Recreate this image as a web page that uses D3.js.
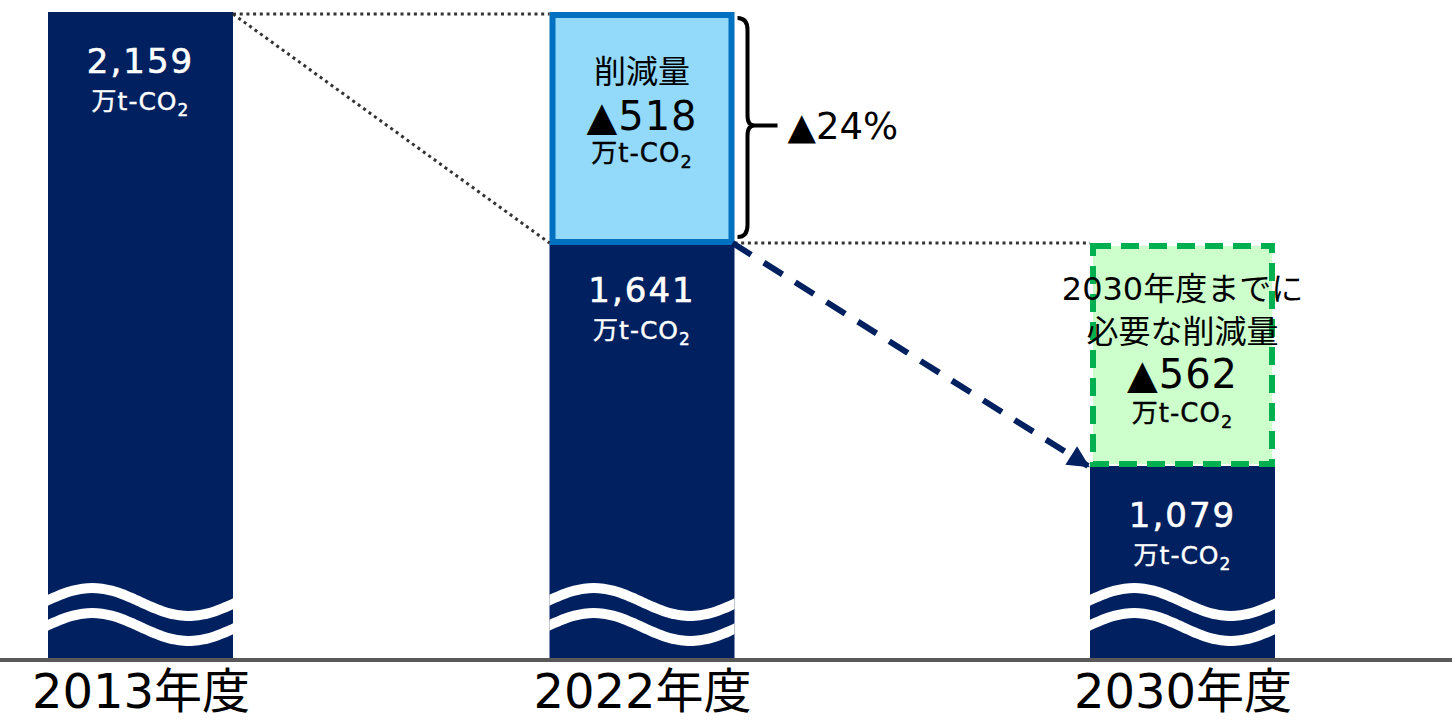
<!DOCTYPE html>
<html>
<head>
<meta charset="utf-8">
<script src="https://cdn.jsdelivr.net/npm/d3@7"></script>
<style>
  body { margin: 0; background: #fff; }
  svg { display: block; }
</style>
</head>
<body>
<div id="chart"></div>
<script>
// data
const years = ["2013年度", "2022年度", "2030年度"]
const emissions = [2159, 1641, 1079]
const reductionDone = 518      // 2013 -> 2022
const reductionNeeded = 562    // 2022 -> 2030
const reductionRate = 24       // %
const unitText = "万t-CO"
const neededLines = ["2030年度までに", "必要な削減量"]
const doneTitle = "削減量"

const W = 1452, H = 721
const baseY = 660
const barW = 185
const FONT = "'DejaVu Sans', 'Noto Sans CJK JP', sans-serif"
const NAVY = "#002060"

const svg = d3.select("#chart")
    .append("svg")
    .attr("width", W)
    .attr("height", H)
    .style("font-family", FONT)

// x: the bars are not evenly spaced in the picture, so map each year to its centre
const x = d3.scaleOrdinal()
    .domain(years)
    .range([140.5, 642, 1182.5])

// y: broken (not to scale) axis, piecewise linear through the three levels
const y = d3.scaleLinear()
    .domain(d3.sort(emissions))
    .range([466, 241, 12])

const left = d => x(d) - barW / 2
const right = d => x(d) + barW / 2
const fmt = d3.format(",")

const defs = svg.append("defs")
defs.append("marker")
    .attr("id", "arrow")
    .attr("viewBox", "0 0 10 10")
    .attr("refX", 9)
    .attr("refY", 5)
    .attr("markerUnits", "userSpaceOnUse")
    .attr("markerWidth", 24)
    .attr("markerHeight", 22)
    .attr("orient", "auto")
    .append("path")
    .attr("d", "M0,0 L10,5 L0,10 z")
    .attr("fill", NAVY)

years.forEach((yr, i) => {
    defs.append("clipPath")
        .attr("id", "clip-" + i)
        .append("rect")
        .attr("x", left(yr))
        .attr("y", 0)
        .attr("width", barW)
        .attr("height", baseY)
})

/* BARS */
svg.selectAll(".bar")
    .data(years)
    .enter()
    .append("rect")
    .attr("class", "bar")
    .attr("x", d => left(d))
    .attr("y", (d, i) => y(emissions[i]))
    .attr("width", barW)
    .attr("height", (d, i) => baseY - y(emissions[i]))
    .attr("fill", NAVY)

/* WAVE BREAK MARKS */
const wave = (yr, c) => {
    const amp = 14
    const pts = d3.range(0, 1.0001, 0.025)
        .map(t => [left(yr) - 4 + t * (barW + 8), c - amp * Math.sin(2 * Math.PI * t)])
    return d3.line().curve(d3.curveCatmullRom)(pts)
}
years.forEach((yr, i) => {
    [baseY - 58, baseY - 33].forEach(c => {
        svg.append("path")
            .attr("d", wave(yr, c))
            .attr("clip-path", `url(#clip-${i})`)
            .attr("fill", "none")
            .attr("stroke", "#fff")
            .attr("stroke-width", 10)
    })
})

/* REDUCTION ACHIEVED (2013 -> 2022) */
const y13 = y(emissions[0]), y22 = y(emissions[1]), y30 = y(emissions[2])
svg.append("rect")
    .attr("x", left(years[1]) + 3)
    .attr("y", y13 + 3)
    .attr("width", barW - 6)
    .attr("height", y22 - y13 - 2)
    .attr("fill", "#93DAFA")
    .attr("stroke", "#0070C0")
    .attr("stroke-width", 6)

/* REDUCTION NEEDED (2022 -> 2030) */
svg.append("rect")
    .attr("x", left(years[2]) + 3)
    .attr("y", y22 + 5)
    .attr("width", barW - 6)
    .attr("height", y30 - y22 - 7)
    .attr("fill", "#CCFFCC")
    .attr("stroke", "#00B050")
    .attr("stroke-width", 6)
    .attr("stroke-dasharray", "18 10")

/* DOTTED GUIDES */
const guides = [
    [right(years[0]), y13, left(years[1]), y13],
    [right(years[0]), y13, left(years[1]), y22],
    [right(years[1]), y22, left(years[2]), y22]
]
svg.selectAll(".guide")
    .data(guides)
    .enter()
    .append("line")
    .attr("class", "guide")
    .attr("x1", d => d[0]).attr("y1", d => d[1] + 2)
    .attr("x2", d => d[2]).attr("y2", d => d[3] + 2)
    .attr("stroke", "#333")
    .attr("stroke-width", 3)
    .attr("stroke-dasharray", "3 3.7")

/* DASHED ARROW */
svg.append("line")
    .attr("x1", right(years[1]) - 2)
    .attr("y1", y22 + 2)
    .attr("x2", left(years[2]) - 2)
    .attr("y2", y30)
    .attr("stroke", NAVY)
    .attr("stroke-width", 6)
    .attr("stroke-dasharray", "22 15")
    .attr("marker-end", "url(#arrow)")

/* BRACE + RATE */
const bx = right(years[1]) + 3
const bT = y13 + 6, bB = y22 - 4, bM = (bT + bB) / 2 - 2
svg.append("path")
    .attr("d", `M${bx},${bT} Q${bx + 10},${bT} ${bx + 10},${bT + 12}
                L${bx + 10},${bM - 10} Q${bx + 10},${bM} ${bx + 17},${bM}
                Q${bx + 10},${bM} ${bx + 10},${bM + 10}
                L${bx + 10},${bB - 12} Q${bx + 10},${bB} ${bx},${bB}
                M${bx + 17},${bM} L${bx + 40},${bM}`)
    .attr("fill", "none")
    .attr("stroke", "#000")
    .attr("stroke-width", 4)

svg.append("text")
    .attr("x", bx + 50)
    .attr("y", bM + 13)
    .attr("font-size", 37)
    .attr("fill", "#000")
    .text(`▲${reductionRate}%`)

/* LABELS */
function unitLabel(g, cx, yy, size, color) {
    const t = g.append("text")
        .attr("x", cx)
        .attr("y", yy)
        .attr("text-anchor", "middle")
        .attr("font-size", size)
        .attr("letter-spacing", 1)
        .attr("fill", color)
        .attr("stroke", color)
        .attr("stroke-width", 0.4)
    t.append("tspan").text(unitText)
    t.append("tspan")
        .attr("font-size", size * 0.68)
        .attr("dy", size * 0.22)
        .text("2")
}

// values inside the navy bars
years.forEach((yr, i) => {
    const top = y(emissions[i])
    svg.append("text")
        .attr("x", x(yr))
        .attr("y", top + 61)
        .attr("text-anchor", "middle")
        .attr("font-size", 34)
        .attr("letter-spacing", 2)
        .attr("fill", "#fff")
        .attr("stroke", "#fff")
        .attr("stroke-width", 0.6)
        .text(fmt(emissions[i]))
    unitLabel(svg, x(yr), top + 98, 25, "#fff")
})

// achieved reduction box
svg.append("text")
    .attr("x", x(years[1])).attr("y", y13 + 71)
    .attr("text-anchor", "middle")
    .attr("font-size", 32)
    .text(doneTitle)
svg.append("text")
    .attr("x", x(years[1])).attr("y", y13 + 118)
    .attr("text-anchor", "middle")
    .attr("font-size", 40)
    .attr("letter-spacing", 1)
    .text(`▲${reductionDone}`)
unitLabel(svg, x(years[1]), y13 + 150, 26, "#000")

// needed reduction box
neededLines.forEach((s, k) => {
    svg.append("text")
        .attr("x", x(years[2])).attr("y", y22 + 59 + k * 43)
        .attr("text-anchor", "middle")
        .attr("font-size", 32)
        .text(s)
})
svg.append("text")
    .attr("x", x(years[2])).attr("y", y22 + 147)
    .attr("text-anchor", "middle")
    .attr("font-size", 40)
    .attr("letter-spacing", 1)
    .text(`▲${reductionNeeded}`)
unitLabel(svg, x(years[2]), y22 + 181, 26, "#000")

/* BASELINE + X AXIS */
svg.append("line")
    .attr("x1", 0).attr("x2", W)
    .attr("y1", baseY).attr("y2", baseY)
    .attr("stroke", "#595959")
    .attr("stroke-width", 4)

const xAxis = svg.append("g")
    .attr("transform", `translate(0, ${baseY})`)
    .call(d3.axisBottom(x).tickSize(0).tickPadding(14))
xAxis.select(".domain").remove()
xAxis.selectAll("text")
    .attr("font-size", 48)
    .attr("font-family", FONT)
    .attr("fill", "#000")
</script>
</body>
</html>
